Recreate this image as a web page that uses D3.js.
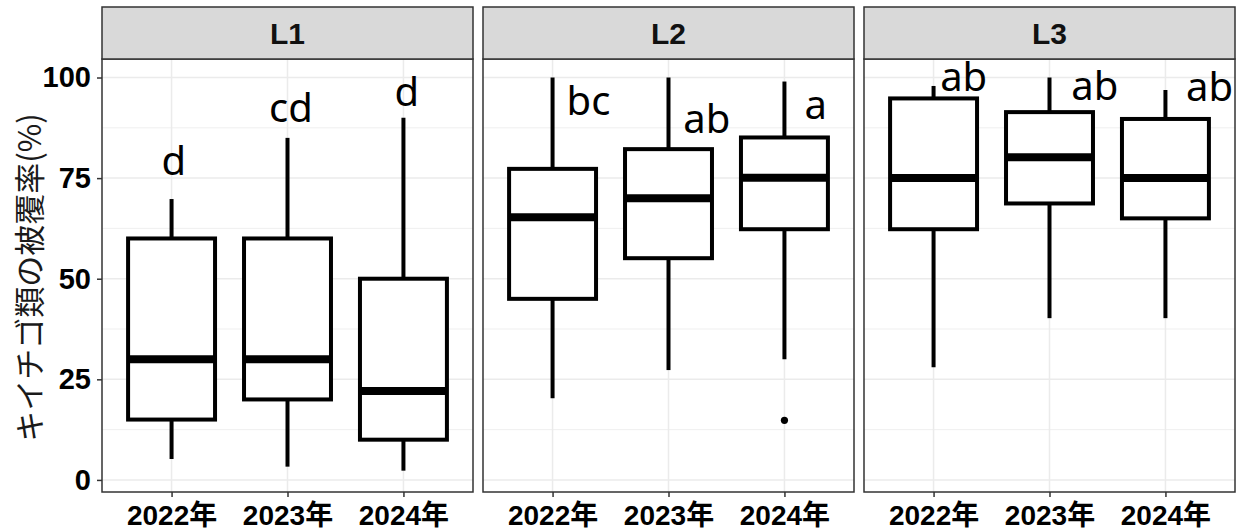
<!DOCTYPE html>
<html>
<head>
<meta charset="utf-8">
<script src="https://cdn.jsdelivr.net/npm/d3@7"></script>
<style>
  html, body { margin: 0; padding: 0; background: #ffffff; }
  svg { display: block; }
</style>
</head>
<body>
<svg id="chart" width="1238" height="530"></svg>
<script>
// Facets (sites) and x categories (survey years)
const panels = ["L1", "L2", "L3"];
const years = ["2022年", "2023年", "2024年"];

// Box statistics per site, one entry per year: [lower whisker, Q1, median, Q3, upper whisker]
const lowerWhisker = { L1: [5.2, 3.3, 2.3],   L2: [20.3, 27.3, 30],  L3: [28, 40.2, 40.2] };
const q1           = { L1: [15, 20, 10],      L2: [45, 55.1, 62.3],  L3: [62.3, 68.7, 65] };
const medians      = { L1: [30, 30, 22.1],    L2: [65.3, 70, 75.1],  L3: [75, 80.2, 75] };
const q3           = { L1: [60, 60, 50],      L2: [77.3, 82.2, 85.1], L3: [94.8, 91.4, 89.7] };
const upperWhisker = { L1: [69.8, 85, 90],    L2: [100, 100, 99],    L3: [97.9, 100, 96.9] };

// Outlying observations: [site, year, value]
const outliers = [["L2", "2024年", 14.8]];

// Significance letters and the height (in %) at which each is written
const letters      = { L1: ["d", "cd", "d"],  L2: ["bc", "ab", "a"],  L3: ["ab", "ab", "ab"] };
const letterHeight = { L1: [75.8, 89.0, 92.9], L2: [90.7, 86.1, 89.7], L3: [96.7, 94.4, 94.2] };

// Horizontal nudge of each letter, in units of category spacing
const letterNudge  = { L1: [0.02, 0.03, 0.03], L2: [0.31, 0.33, 0.27], L3: [0.26, 0.39, 0.38] };

const yTicks = [0, 25, 50, 75, 100];
const yMinor = [12.5, 37.5, 62.5, 87.5];
const yTitle = "キイチゴ類の被覆率(%)";

// ---- layout ----
const W = 1238, H = 530;
const plotLeft = 102, plotRight = 1235;
const stripTop = 7, stripBottom = 59, panelBottom = 492;
const gap = 10;

const svg = d3.select("#chart");
svg.append("rect").attr("width", W).attr("height", H).attr("fill", "#ffffff");

const facet = d3.scaleBand()
  .domain(panels)
  .range([plotLeft, plotRight + gap])
  .paddingInner(0)
  .paddingOuter(0);
const panelW = facet.bandwidth() - gap;

const x = d3.scalePoint().domain(years).range([0, panelW]).padding(0.6);
const step = x.step();
const boxW = step * 0.75;

const y = d3.scaleLinear().domain([-3, 104.6]).range([panelBottom, stripBottom]);

const tickFont = "'Liberation Sans', Arial, 'Noto Sans CJK JP', sans-serif";

panels.forEach((p, pi) => {
  const g = svg.append("g").attr("transform", `translate(${facet(p)},0)`);

  // grid
  g.selectAll(".minor").data(yMinor).join("line")
    .attr("x1", 0).attr("x2", panelW)
    .attr("y1", d => y(d)).attr("y2", d => y(d))
    .attr("stroke", "#ebebeb").attr("stroke-width", 0.8);
  g.selectAll(".major").data(yTicks).join("line")
    .attr("x1", 0).attr("x2", panelW)
    .attr("y1", d => y(d)).attr("y2", d => y(d))
    .attr("stroke", "#ebebeb").attr("stroke-width", 1.5);
  g.selectAll(".vgrid").data(years).join("line")
    .attr("x1", d => x(d)).attr("x2", d => x(d))
    .attr("y1", stripBottom).attr("y2", panelBottom)
    .attr("stroke", "#ebebeb").attr("stroke-width", 1.5);

  // boxes
  years.forEach((yr, i) => {
    const cx = x(yr);
    const lw = lowerWhisker[p][i], a = q1[p][i], m = medians[p][i], b = q3[p][i], uw = upperWhisker[p][i];
    g.append("line").attr("x1", cx).attr("x2", cx).attr("y1", y(uw)).attr("y2", y(b))
      .attr("stroke", "#000").attr("stroke-width", 4);
    g.append("line").attr("x1", cx).attr("x2", cx).attr("y1", y(a)).attr("y2", y(lw))
      .attr("stroke", "#000").attr("stroke-width", 4);
    g.append("rect")
      .attr("x", cx - boxW / 2).attr("width", boxW)
      .attr("y", y(b)).attr("height", y(a) - y(b))
      .attr("fill", "#ffffff").attr("stroke", "#000").attr("stroke-width", 4);
    g.append("line").attr("x1", cx - boxW / 2).attr("x2", cx + boxW / 2)
      .attr("y1", y(m)).attr("y2", y(m))
      .attr("stroke", "#000").attr("stroke-width", 8);

    // significance letter
    g.append("text")
      .attr("x", cx + letterNudge[p][i] * step)
      .attr("y", y(letterHeight[p][i]))
      .attr("text-anchor", "middle")
      .attr("font-family", "'Noto Sans', 'Liberation Sans', sans-serif")
      .attr("font-size", 40)
      .attr("fill", "#000")
      .text(letters[p][i]);
  });

  // outliers
  outliers.filter(o => o[0] === p).forEach(o => {
    g.append("circle").attr("cx", x(o[1])).attr("cy", y(o[2])).attr("r", 3.6).attr("fill", "#000");
  });

  // panel border
  g.append("rect").attr("x", 0).attr("y", stripBottom).attr("width", panelW)
    .attr("height", panelBottom - stripBottom)
    .attr("fill", "none").attr("stroke", "#333333").attr("stroke-width", 1.5);

  // strip
  g.append("rect").attr("x", 0).attr("y", stripTop).attr("width", panelW)
    .attr("height", stripBottom - stripTop)
    .attr("fill", "#d9d9d9").attr("stroke", "#333333").attr("stroke-width", 1.5);
  g.append("text")
    .attr("x", panelW / 2).attr("y", (stripTop + stripBottom) / 2)
    .attr("dy", "0.36em")
    .attr("text-anchor", "middle")
    .attr("font-family", tickFont).attr("font-weight", "bold").attr("font-size", 30)
    .attr("fill", "#111111")
    .text(p);

  // x axis
  const xAxis = d3.axisBottom(x).tickSize(5).tickPadding(8);
  const xg = g.append("g").attr("transform", `translate(0,${panelBottom})`).call(xAxis);
  xg.select(".domain").remove();
  xg.selectAll(".tick line").attr("stroke", "#333333").attr("stroke-width", 1.5);
  xg.selectAll(".tick text")
    .attr("font-family", tickFont).attr("font-weight", "bold").attr("font-size", 28)
    .attr("fill", "#000").attr("dy", "0.71em");

  // y axis on first panel only
  if (pi === 0) {
    const yAxis = d3.axisLeft(y).tickValues(yTicks).tickSize(5).tickPadding(6);
    const yg = g.append("g").call(yAxis);
    yg.select(".domain").remove();
    yg.selectAll(".tick line").attr("stroke", "#333333").attr("stroke-width", 1.5);
    yg.selectAll(".tick text")
      .attr("font-family", tickFont).attr("font-weight", "bold").attr("font-size", 29)
      .attr("fill", "#000");
  }
});

// y axis title
svg.append("text")
  .attr("transform", `translate(27,${(stripBottom + panelBottom) / 2 + 2}) rotate(-90)`)
  .attr("text-anchor", "middle")
  .attr("dominant-baseline", "central")
  .attr("font-family", "'Noto Sans CJK JP', sans-serif")
  .attr("font-size", 31)
  .attr("fill", "#1a1a1a")
  .text(yTitle);
</script>
</body>
</html>
